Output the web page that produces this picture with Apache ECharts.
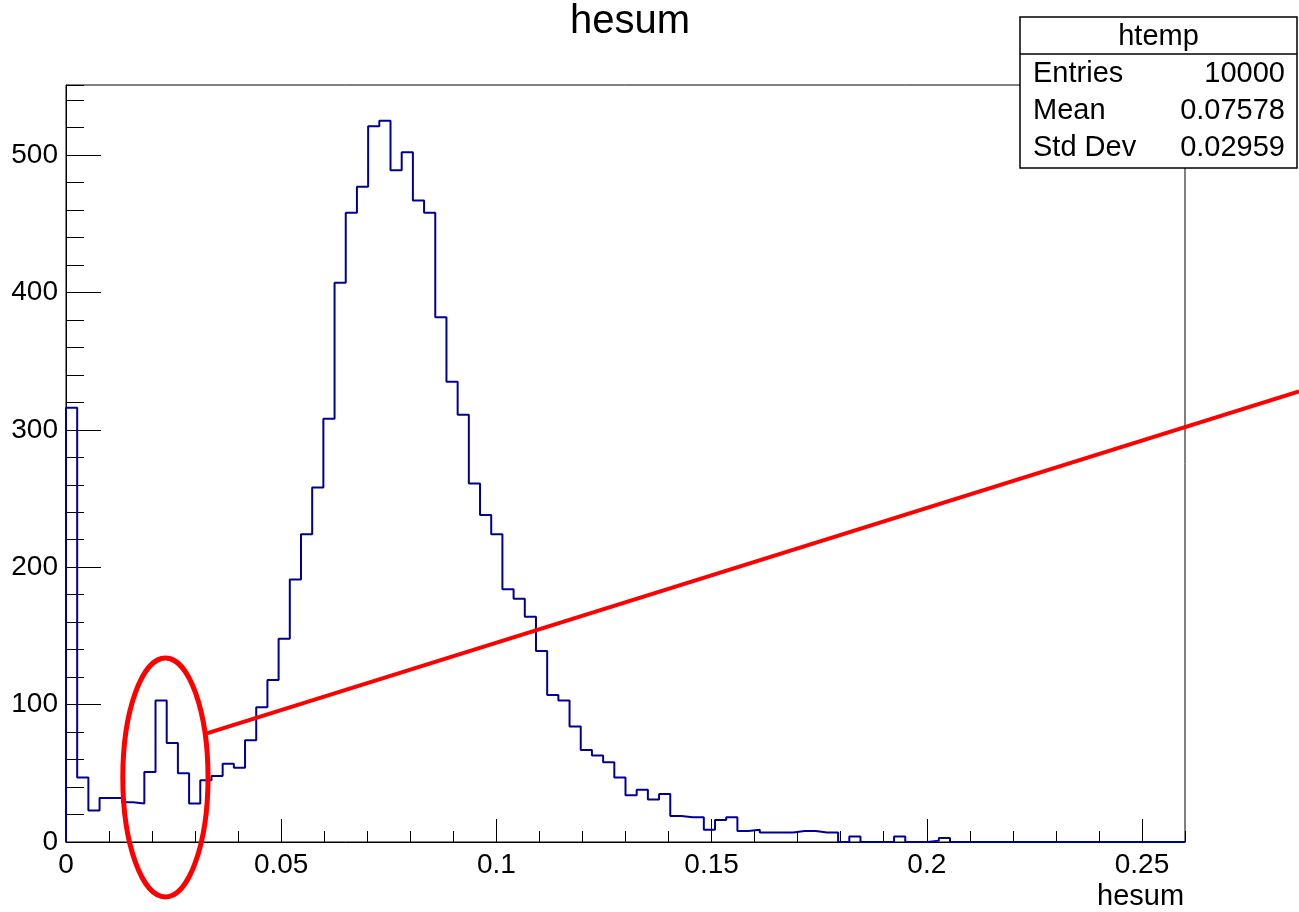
<!DOCTYPE html>
<html>
<head>
<meta charset="utf-8">
<title>hesum</title>
<script src="https://cdn.jsdelivr.net/npm/echarts@6/dist/echarts.min.js"></script>
<style>
  html, body { margin: 0; padding: 0; background: #fff; }
  #chart { width: 1299px; height: 912px; }
</style>
</head>
<body>
<div id="chart"></div>
<script>
// histogram "hesum", 100 bins over [0, 0.26]
var xRange = [0, 0.26];
var yRange = [0, 551];
var counts = [
  316, 47, 23, 32, 32, 29, 28, 51, 103, 72,
  50, 28, 45, 48, 57, 54, 74, 98, 118, 148,
  191, 224, 258, 308, 407, 458, 477, 521, 525, 489,
  502, 467, 458, 382, 335, 311, 261, 238, 224, 184,
  177, 164, 139, 107, 103, 84, 67, 63, 58, 47,
  34, 38, 31, 35, 19, 18, 18, 9, 16, 18,
  8, 9, 7, 7, 7, 8, 8, 7, 7, 0,
  4, 0, 0, 0, 4, 0, 0, 1, 3, 0,
  0, 0, 0, 0, 0, 0, 0, 0, 0, 0,
  0, 0, 0, 0, 0, 0, 0, 0, 0, 0
];
var xTickLabels = ['0', '0.05', '0.1', '0.15', '0.2', '0.25'];
var yTickLabels = ['0', '100', '200', '300', '400', '500'];
var statTitle = 'htemp';
var statLabels = ['Entries', 'Mean', 'Std Dev'];
var statValues = ['10000', '0.07578', '0.02959'];
// red hand-drawn marks, in data units
var ringCenter = [0.0231, 47];
var ringHalf = [0.0099, 87];
var pointerLine = [[0.0327, 79], [0.2865, 328]];

var FONT = '"Liberation Sans", Arial, Helvetica, sans-serif';

var binW = (xRange[1] - xRange[0]) / counts.length;
var steps = [[xRange[0], 0]];
counts.forEach(function (c, i) { steps.push([xRange[0] + i * binW, c]); });
steps.push([xRange[1], counts[counts.length - 1]]);

var chart = echarts.init(document.getElementById('chart'));

var black = { color: '#000', width: 1 };
var option = {
  animation: false,
  backgroundColor: '#fff',
  title: {
    text: 'hesum',
    left: 625,
    textAlign: 'center',
    top: -3,
    textStyle: { fontSize: 40, fontWeight: 'normal', color: '#000', fontFamily: FONT }
  },
  grid: { left: 66, right: 114, top: 85, bottom: 70, show: true, borderColor: '#000', borderWidth: 1, containLabel: false },
  xAxis: [
    {
      type: 'value', min: xRange[0], max: xRange[1], interval: 0.05, position: 'bottom',
      axisLine: { lineStyle: black },
      axisTick: { inside: true, length: 23, lineStyle: black },
      splitLine: { show: false },
      axisLabel: {
        color: '#000', fontSize: 28, fontFamily: FONT, margin: 9, showMaxLabel: false,
        formatter: function (v) { return xTickLabels[Math.round(v / 0.05)] || ''; }
      },
      name: 'hesum', nameLocation: 'end', nameGap: -88,
      nameTextStyle: { color: '#000', fontSize: 29, fontFamily: FONT, verticalAlign: 'top', padding: [40, 0, 0, 0] }
    },
    {
      type: 'value', min: xRange[0], max: xRange[1], interval: 0.01, position: 'bottom',
      axisLine: { show: false },
      axisTick: { inside: true, length: 11, lineStyle: black },
      splitLine: { show: false },
      axisLabel: { show: false }
    }
  ],
  yAxis: [
    {
      type: 'value', min: yRange[0], max: yRange[1], interval: 100, position: 'left',
      axisLine: { show: true, lineStyle: black },
      axisTick: { show: true, inside: true, length: 35, lineStyle: black },
      splitLine: { show: false },
      axisLabel: {
        color: '#000', fontSize: 28, fontFamily: FONT, margin: 8, showMaxLabel: false,
        formatter: function (v) { return yTickLabels[Math.round(v / 100)] || ''; }
      }
    },
    {
      type: 'value', min: yRange[0], max: yRange[1], interval: 20, position: 'left',
      axisLine: { show: false },
      axisTick: { show: true, inside: true, length: 18, lineStyle: black },
      splitLine: { show: false },
      axisLabel: { show: false }
    }
  ],
  series: [
    {
      type: 'line', step: 'end', data: steps, showSymbol: false, silent: true,
      xAxisIndex: 0, yAxisIndex: 0,
      lineStyle: { color: '#000099', width: 2 }, itemStyle: { color: '#000099' }
    }
  ]
};
chart.setOption(option);

// stats box and red marks, placed via the axes
var toPx = function (p) { return chart.convertToPixel({ xAxisIndex: 0, yAxisIndex: 0 }, p); };
var c = toPx(ringCenter);
var e1 = toPx([ringCenter[0] + ringHalf[0], ringCenter[1] + ringHalf[1]]);
var l0 = toPx(pointerLine[0]);
var l1 = toPx(pointerLine[1]);

var box = { x: 1020, y: 17, w: 277, h: 151, head: 37 };
var statFont = '29px ' + FONT;
var g = [
  { type: 'ellipse', z: 50, shape: { cx: c[0], cy: c[1], rx: e1[0] - c[0], ry: c[1] - e1[1] },
    style: { fill: 'none', stroke: '#ff0000', lineWidth: 5 } },
  { type: 'line', z: 50, shape: { x1: l0[0], y1: l0[1], x2: l1[0], y2: l1[1] },
    style: { stroke: '#ff0000', lineWidth: 4 } },
  { type: 'rect', z: 100, shape: { x: box.x, y: box.y, width: box.w, height: box.h },
    style: { fill: '#fff', stroke: '#000', lineWidth: 1.5 } },
  { type: 'line', z: 101, shape: { x1: box.x, y1: box.y + box.head, x2: box.x + box.w, y2: box.y + box.head },
    style: { stroke: '#000', lineWidth: 1.5 } },
  { type: 'text', z: 101, x: box.x + box.w / 2, y: box.y + box.head / 2 + 1,
    style: { text: statTitle, fill: '#000', font: statFont, textAlign: 'center', textVerticalAlign: 'middle' } }
];
statLabels.forEach(function (lab, i) {
  var yy = box.y + box.head + 20 + i * 37;
  g.push({ type: 'text', z: 101, x: box.x + 13, y: yy,
    style: { text: lab, fill: '#000', font: statFont, textAlign: 'left', textVerticalAlign: 'middle' } });
  g.push({ type: 'text', z: 101, x: box.x + box.w - 12, y: yy,
    style: { text: statValues[i], fill: '#000', font: statFont, textAlign: 'right', textVerticalAlign: 'middle' } });
});
chart.setOption({ graphic: g });
</script>
</body>
</html>
